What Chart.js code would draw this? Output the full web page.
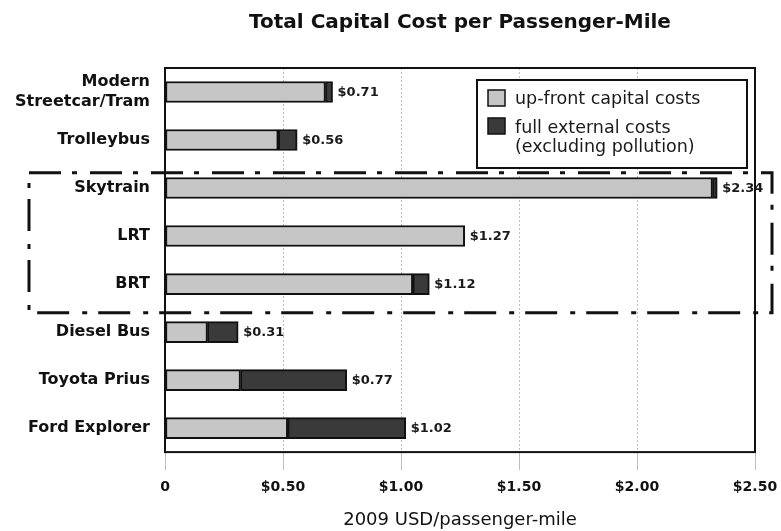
<!DOCTYPE html>
<html>
<head>
<meta charset="utf-8">
<script src="https://cdn.jsdelivr.net/npm/chart.js@4"></script>
<style>
  html, body { margin: 0; padding: 0; background: #fff; }
  #wrap { width: 781px; height: 531px; }
</style>
</head>
<body>
<div id="wrap"><canvas id="costChart"></canvas></div>
<script>
// categories, top to bottom
const modes = [
  ["Modern", "Streetcar/Tram"],
  "Trolleybus",
  "Skytrain",
  "LRT",
  "BRT",
  "Diesel Bus",
  "Toyota Prius",
  "Ford Explorer"
];
// USD per passenger-mile
const upFront = [0.68, 0.48, 2.32, 1.27, 1.05, 0.18, 0.32, 0.52];
const external = [0.03, 0.08, 0.02, 0.00, 0.07, 0.13, 0.45, 0.50];
const totalLabels = ["$0.71", "$0.56", "$2.34", "$1.27", "$1.12", "$0.31", "$0.77", "$1.02"];
const tickValues = [0, 0.5, 1, 1.5, 2, 2.5];
const tickLabels = ["0", "$0.50", "$1.00", "$1.50", "$2.00", "$2.50"];

const FONT = "'DejaVu Sans', Verdana, sans-serif";

// frame, dash-dot highlight box, value labels, legend box
const extras = {
  id: "extras",
  afterDatasetsDraw(chart) {
    const { ctx, chartArea: a, scales } = chart;
    const x = scales.x, y = scales.y;
    ctx.save();

    // value labels at bar ends
    ctx.font = "bold 13px " + FONT;
    ctx.fillStyle = "#1a1a1a";
    ctx.textBaseline = "middle";
    ctx.textAlign = "left";
    modes.forEach((m, i) => {
      const tot = upFront[i] + external[i];
      ctx.fillText(totalLabels[i], x.getPixelForValue(tot) + 5, y.getPixelForValue(i) + 1);
    });

    // plot frame
    ctx.strokeStyle = "#111";
    ctx.lineWidth = 2;
    ctx.strokeRect(a.left, a.top, a.right - a.left, a.bottom - a.top);

    // dash-dot box around rail rapid transit
    const top = y.getPixelForValue(1.68);
    const bot = y.getPixelForValue(4.6);
    ctx.lineWidth = 3;
    ctx.setLineDash([32, 11, 5, 13]);
    ctx.strokeRect(29, top, a.right + 17 - 29, bot - top);
    ctx.setLineDash([]);

    // legend
    const lx = a.right - 278, ly = a.top + 12, lw = 270, lh = 88;
    ctx.fillStyle = "#fff";
    ctx.fillRect(lx, ly, lw, lh);
    ctx.lineWidth = 2;
    ctx.strokeStyle = "#111";
    ctx.strokeRect(lx, ly, lw, lh);
    const ds = chart.data.datasets;
    ctx.lineWidth = 1.5;
    [ly + 18, ly + 46].forEach((sy, k) => {
      ctx.fillStyle = ds[k].backgroundColor;
      ctx.fillRect(lx + 11, sy - 8, 17, 16);
      ctx.strokeRect(lx + 11, sy - 8, 17, 16);
    });
    ctx.font = "17.5px " + FONT;
    ctx.fillStyle = "#1a1a1a";
    ctx.fillText("up-front capital costs", lx + 38, ly + 19);
    ctx.fillText("full external costs", lx + 38, ly + 48);
    ctx.fillText("(excluding pollution)", lx + 38, ly + 67);

    ctx.restore();
  }
};

new Chart(document.getElementById("costChart"), {
  type: "bar",
  data: {
    labels: modes,
    datasets: [
      {
        label: "up-front capital costs",
        data: upFront,
        backgroundColor: "#c6c6c6",
        borderColor: "#111",
        borderWidth: 2,
        borderSkipped: false
      },
      {
        label: "full external costs (excluding pollution)",
        data: external,
        backgroundColor: "#3a3a3a",
        borderColor: "#111",
        borderWidth: 2,
        borderSkipped: false
      }
    ]
  },
  options: {
    indexAxis: "y",
    responsive: true,
    maintainAspectRatio: false,
    animation: false,
    barThickness: 21,
    layout: { padding: { top: 0, right: 26, bottom: 0, left: 0 } },
    plugins: {
      legend: { display: false },
      tooltip: { enabled: false },
      title: {
        display: true,
        fullSize: false,
        text: "Total Capital Cost per Passenger-Mile",
        color: "#111",
        font: { family: FONT, size: 20, weight: "bold" },
        padding: { top: 11, bottom: 33 }
      }
    },
    scales: {
      x: {
        stacked: true,
        min: 0,
        max: 2.5,
        afterBuildTicks(s) { s.ticks = tickValues.map(v => ({ value: v })); },
        afterFit(s) { s.paddingLeft = 0; s.paddingRight = 0; },
        grid: {
          color: "#bdbdbd",
          lineWidth: 1,
          tickLength: 18,
          drawOnChartArea: true
        },
        border: { display: false, dash: [2, 2] },
        ticks: {
          color: "#111",
          font: { family: FONT, size: 14, weight: "bold" },
          padding: 8.5,
          maxRotation: 0,
          callback: (v) => tickLabels[tickValues.indexOf(v)]
        },
        title: {
          display: true,
          text: "2009 USD/passenger-mile",
          color: "#111",
          font: { family: FONT, size: 18 },
          padding: { top: 5.5, bottom: 0 }
        }
      },
      y: {
        stacked: true,
        grid: { display: false },
        border: { display: false },
        afterFit(s) { s.width = 165; s.paddingTop = 0; s.paddingBottom = 0; },
        ticks: {
          color: "#111",
          font: { family: FONT, size: 16, weight: "bold", lineHeight: 1.25 },
          padding: 7
        }
      }
    }
  },
  plugins: [extras]
});
</script>
</body>
</html>
